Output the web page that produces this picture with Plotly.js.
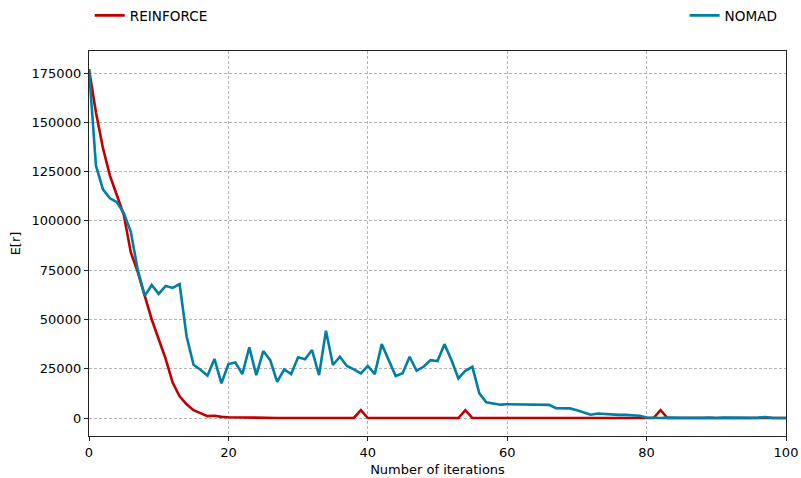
<!DOCTYPE html>
<html>
<head>
<meta charset="utf-8">
<script src="https://cdn.plot.ly/plotly-3.0.1.min.js"></script>
<style>html,body{margin:0;padding:0;background:#fff;}#chart{width:801px;height:478px;}</style>
</head>
<body>
<div id="chart"></div>
<script>
const iterations = Array.from({length: 101}, (_, i) => i);

const reinforce = [
  177000, 155000, 137000, 123000, 113000, 103000, 84000, 74000, 62000, 50000,
  40000, 30000, 18000, 11000, 7000, 4000, 2500, 1000, 1200, 600,
  400, 300, 200, 100, 200, 100, 50, 50, 50, 50,
  50, 50, 50, 50, 50, 50, 50, 50, 50, 4000,
  0, 0, 0, 0, 0, 0, 0, 0, 0, 0,
  0, 0, 0, 0, 4000, 0, 0, 0, 0, 0,
  0, 0, 0, 0, 0, 0, 0, 0, 0, 0,
  0, 0, 0, 0, 0, 0, 0, 0, 0, 0,
  0, 0, 4000, 0, 0, 0, 0, 0, 0, 0,
  0, 0, 0, 0, 0, 0, 0, 0, 0, 0,
  0
];

const nomad = [
  177000, 128000, 116000, 111500, 109500, 104000, 94500, 75000, 62000, 67500,
  63000, 67000, 66000, 68000, 41500, 27000, 24500, 21500, 30000, 17600,
  27400, 28200, 22300, 35900, 21800, 34000, 29400, 18400, 24700, 22300,
  30800, 29800, 34500, 21800, 44300, 26900, 31100, 26400, 24700, 22700,
  26400, 22300, 37500, 29400, 21300, 22700, 31100, 24000, 26000, 29400,
  28900, 37500, 29400, 20100, 24000, 26000, 12500, 8000, 7400, 6800,
  7000, 7000, 6900, 7000, 6800, 6700, 6700, 5000, 5000, 4900,
  4000, 2900, 1700, 2300, 2100, 1600, 1600, 1600, 1500, 1200,
  300, 0, 0, 200, 0, 100, 100, 0, 100, 200,
  0, 200, 100, 0, 0, 100, 200, 500, 100, 0,
  0
];

const xTicks = [0, 20, 40, 60, 80, 100];
const yTicks = [0, 25000, 50000, 75000, 100000, 125000, 150000, 175000];

const font = {family: 'DejaVu Sans, sans-serif', size: 13, color: '#000'};
const legendFont = {family: 'DejaVu Sans, sans-serif', size: 13.6, color: '#000'};

const traces = [
  {x: iterations, y: reinforce, type: 'scatter', mode: 'lines', name: 'REINFORCE',
   line: {color: '#c00000', width: 2.6}, legend: 'legend'},
  {x: iterations, y: nomad, type: 'scatter', mode: 'lines', name: 'NOMAD',
   line: {color: '#007fa3', width: 2.6}, legend: 'legend2'}
];

const axisCommon = {
  showline: true, mirror: true, linecolor: '#222', linewidth: 1.2,
  ticks: 'outside', ticklen: 4, tickwidth: 1, tickcolor: '#222',
  showgrid: true, gridcolor: '#a0a0a0', gridwidth: 0.8, griddash: '3px,2px',
  zeroline: false, tickfont: font
};

const layout = {
  width: 801, height: 478,
  margin: {l: 89, r: 15, t: 51, b: 42},
  paper_bgcolor: '#fff', plot_bgcolor: '#fff',
  font: font,
  showlegend: true,
  xaxis: Object.assign({}, axisCommon, {
    range: [0, 100], tickvals: xTicks, ticktext: xTicks.map(String),
    title: {text: 'Number of iterations', font: font, standoff: 6}
  }),
  yaxis: Object.assign({}, axisCommon, {
    range: [-9100, 186200], tickvals: yTicks, ticktext: yTicks.map(String),
    title: {text: 'E[r]', font: font, standoff: 8}
  }),
  legend: {x: 0.112, y: 1, xref: 'container', yref: 'container', xanchor: 'left', yanchor: 'top',
    bgcolor: 'rgba(0,0,0,0)', font: legendFont, itemwidth: 30, orientation: 'h'},
  legend2: {x: 0.977, y: 1, xref: 'container', yref: 'container', xanchor: 'right', yanchor: 'top',
    bgcolor: 'rgba(0,0,0,0)', font: legendFont, itemwidth: 30, orientation: 'h'}
};

Plotly.newPlot('chart', traces, layout, {displayModeBar: false, staticPlot: true});
</script>
</body>
</html>
